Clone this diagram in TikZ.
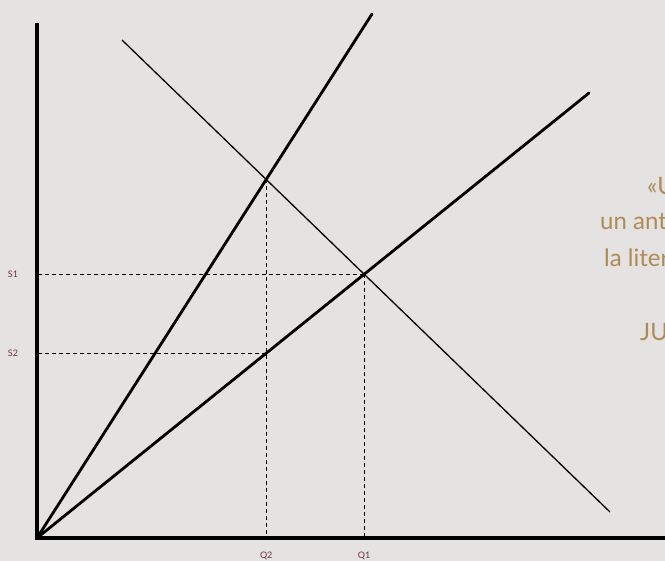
\documentclass[tikz,border=0pt]{standalone}
\usepackage{fontspec}
\setmainfont{Lato}
\definecolor{bg}{HTML}{E4E3E1}
\definecolor{lab}{HTML}{6E2F3E}
\definecolor{gold}{HTML}{B08A55}
\begin{document}
\begin{tikzpicture}[x=1pt,y=-1pt,
  axisline/.style={line width=3.5pt},
  thickline/.style={line width=2.8pt},
  thinline/.style={line width=1.3pt},
  guide/.style={line width=0.9pt,dash pattern=on 4pt off 3pt},
  lbl/.style={text=lab,font=\fontsize{9}{10}\selectfont,inner sep=0pt},
  quote/.style={text=gold,font=\fontsize{24}{28}\selectfont,inner sep=0pt,anchor=base west}]
\useasboundingbox (0,0) rectangle (665,561);
\fill[bg] (0,0) rectangle (665,561);
\clip (0,0) rectangle (665,561);
\coordinate (O) at (37,538);
\coordinate (Ytop) at (37,23);
\coordinate (Xend) at (667,538);
\coordinate (Se) at (372,14);
\coordinate (He) at (589,93);
\coordinate (Ts) at (122,40);
\coordinate (Te) at (610,512);
\coordinate (A) at (intersection of O--Se and Ts--Te);
\coordinate (B) at (intersection of O--He and Ts--Te);
\coordinate (Abot) at (A |- O);
\coordinate (Bbot) at (B |- O);
\coordinate (C) at (intersection of O--He and A--Abot);
\coordinate (Bl) at (B -| O);
\coordinate (Cl) at (C -| O);
% guides
\draw[guide] (B) -- (Bl);
\draw[guide] (C) -- (Cl);
\draw[guide] (A) -- (Abot);
\draw[guide] (B) -- (Bbot);
% lines
\draw[thinline] (Ts) -- (Te);
\draw[thickline,line cap=round] (O) -- (Se);
\draw[thickline,line cap=round] (O) -- (He);
% axes
\draw[axisline] (Ytop) -- (O) -- (Xend);
% labels
\node[lbl] (s1) at ([xshift=-24pt]Bl) {S1};
\node[lbl] (s2) at ([xshift=-24pt]Cl) {S2};
\node[lbl] (q2) at ([yshift=-18pt]Abot) {Q2};
\node[lbl] (q1) at ([yshift=-18pt]Bbot) {Q1};
% quote (cut off at right edge)
\node[quote] (t1) at (647,195) {«U};
\node[quote] (t2) at (600,230) {un ant};
\node[quote] (t3) at (604,267) {la liter};
\node[quote] (t4) at (640,341) {JU};
\end{tikzpicture}
\end{document}
